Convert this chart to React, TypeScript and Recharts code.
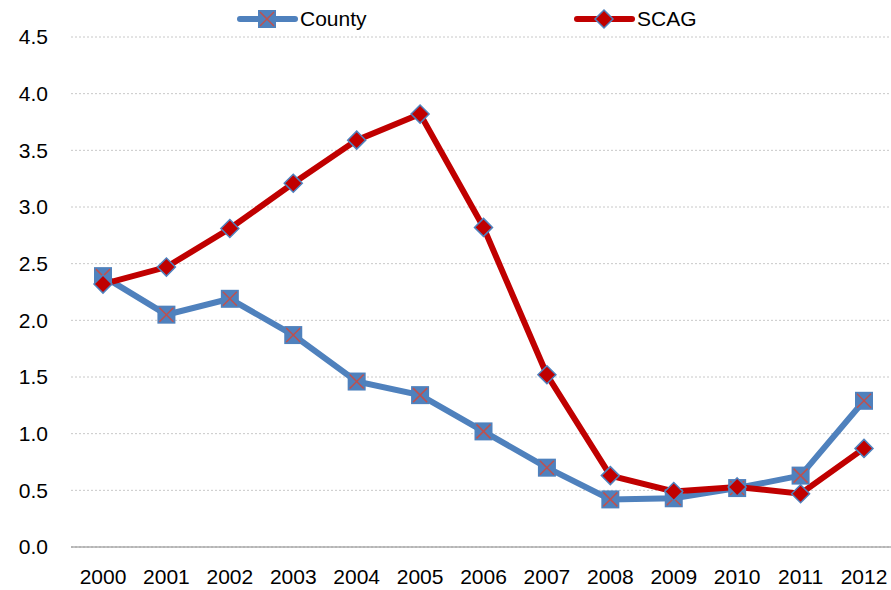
import React from 'react'
import { LineChart, Line, XAxis, YAxis, CartesianGrid } from 'recharts'

const years = ['2000', '2001', '2002', '2003', '2004', '2005', '2006', '2007', '2008', '2009', '2010', '2011', '2012']
const county = [2.39, 2.05, 2.19, 1.87, 1.46, 1.34, 1.02, 0.7, 0.42, 0.43, 0.52, 0.63, 1.29]
const scag = [2.32, 2.47, 2.81, 3.21, 3.59, 3.82, 2.82, 1.52, 0.63, 0.49, 0.53, 0.47, 0.87]
const yTicks = [0, 0.5, 1, 1.5, 2, 2.5, 3, 3.5, 4, 4.5]

const BLUE = '#4F81BD'
const RED = '#C00000'
const XRED = '#C0504D'
const FONT = '"Liberation Sans", Arial, sans-serif'

const data = years.map((y, i) => ({ year: y, county: county[i], scag: scag[i] }))

function SquareMark({ cx, cy }: { cx: number; cy: number }) {
  const s = 9
  return (
    <g>
      <rect x={cx - s} y={cy - s} width={s * 2} height={s * 2} fill={BLUE} />
      <line x1={cx - s + 2} y1={cy - s + 2} x2={cx + s - 2} y2={cy + s - 2} stroke={XRED} strokeWidth={1.5} />
      <line x1={cx - s + 2} y1={cy + s - 2} x2={cx + s - 2} y2={cy - s + 2} stroke={XRED} strokeWidth={1.5} />
    </g>
  )
}

function DiamondMark({ cx, cy }: { cx: number; cy: number }) {
  const s = 9
  return (
    <polygon
      points={`${cx},${cy - s} ${cx + s},${cy} ${cx},${cy + s} ${cx - s},${cy}`}
      fill={RED}
      stroke={BLUE}
      strokeWidth={1.5}
    />
  )
}

function TopLegend() {
  const item = (x: number, color: string, label: string, mark: React.ReactNode) => (
    <g>
      <line x1={x} y1={19} x2={x + 55} y2={19} stroke={color} strokeWidth={6} strokeLinecap="round" />
      {mark}
      <text x={x + 60} y={19} dy="0.35em" fontSize={21} fontFamily={FONT} fill="#000">{label}</text>
    </g>
  )
  return (
    <svg width={891} height={40} style={{ position: 'absolute', left: 0, top: 0, display: 'block' }}>
      {item(240, BLUE, 'County', <SquareMark cx={267} cy={19} />)}
      {item(577, RED, 'SCAG', <DiamondMark cx={604} cy={19} />)}
    </svg>
  )
}

export default function App() {
  return (
    <div style={{ position: 'fixed', left: 0, top: 0, width: 891, height: 590, overflow: 'hidden', background: '#fff' }}>
      <LineChart width={900} height={590} data={data} margin={{ top: 37, right: 4, bottom: 0, left: 0 }}>
        <CartesianGrid vertical={false} stroke="#C8C8C8" strokeDasharray="2 2" />
        <XAxis
          dataKey="year"
          padding={{ left: 32, right: 32 }}
          tickLine={false}
          tickSize={0}
          tickMargin={22}
          height={43}
          interval={0}
          stroke="#868686"
          tick={{ fill: '#000', fontSize: 21, fontFamily: FONT }}
        />
        <YAxis
          domain={[0, 4.5]}
          ticks={yTicks}
          width={71}
          axisLine={false}
          tickLine={false}
          tickSize={0}
          tickMargin={23}
          tickFormatter={(v: number) => v.toFixed(1)}
          tick={{ fill: '#000', fontSize: 21, fontFamily: FONT }}
        />
        <Line
          dataKey="county"
          stroke={BLUE}
          strokeWidth={6}
          isAnimationActive={false}
          dot={(p: any) => <SquareMark key={`c${p.index}`} cx={p.cx} cy={p.cy} />}
          activeDot={false}
        />
        <Line
          dataKey="scag"
          stroke={RED}
          strokeWidth={6}
          isAnimationActive={false}
          dot={(p: any) => <DiamondMark key={`s${p.index}`} cx={p.cx} cy={p.cy} />}
          activeDot={false}
        />
      </LineChart>
      <TopLegend />
    </div>
  )
}
